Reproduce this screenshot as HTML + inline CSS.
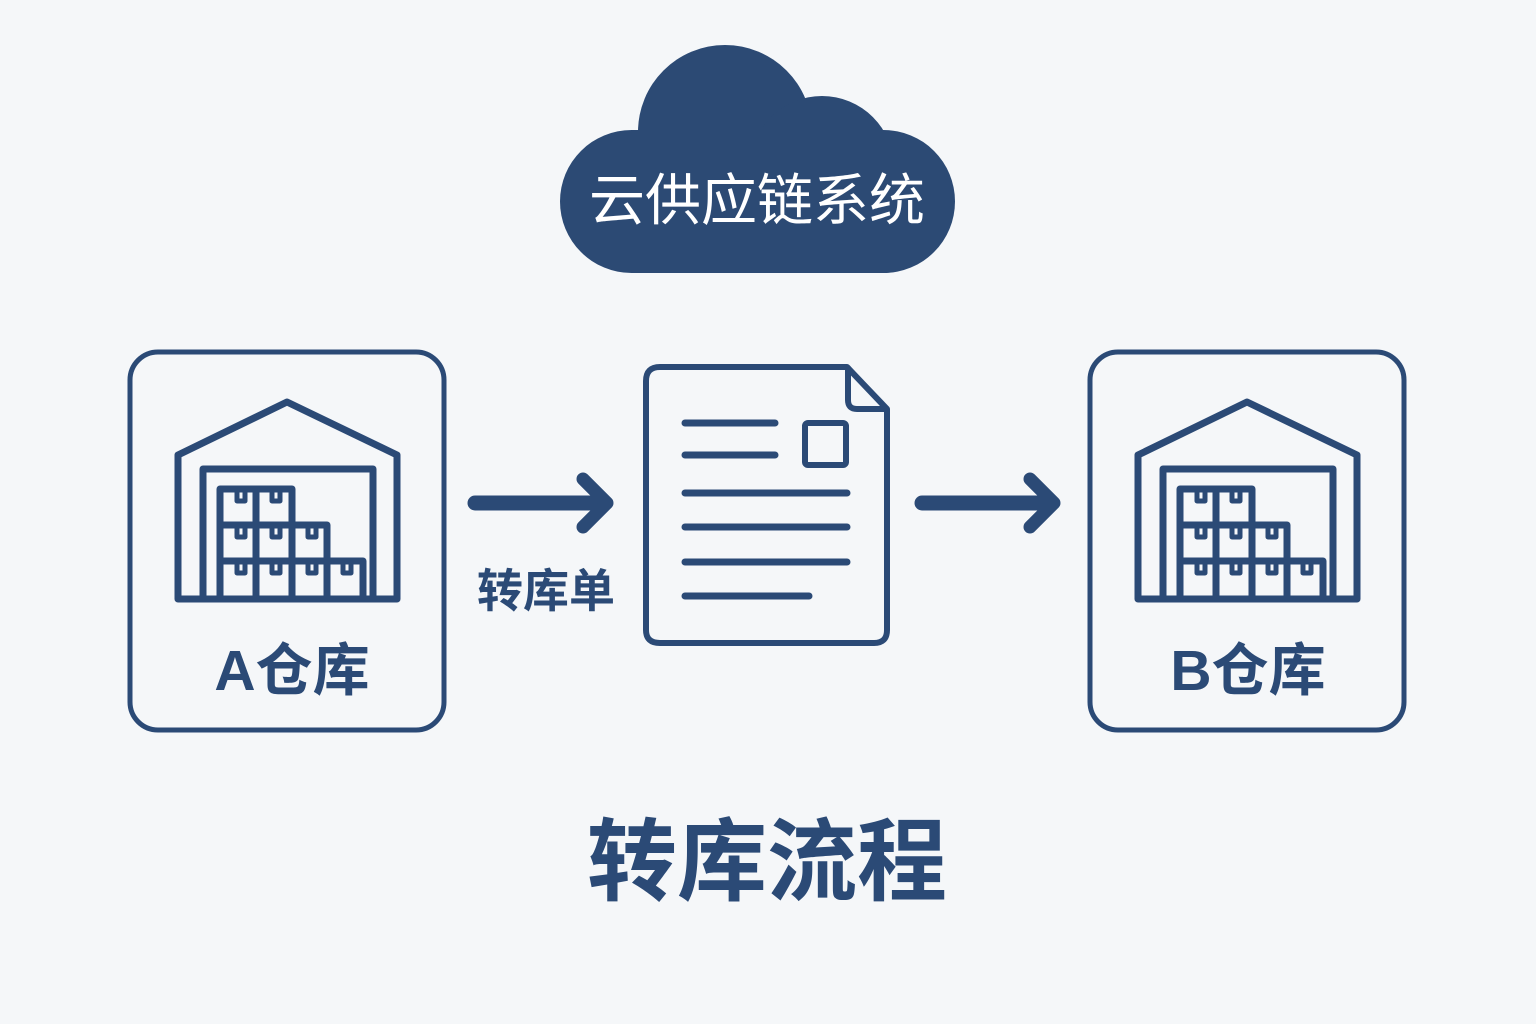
<!DOCTYPE html>
<html><head><meta charset="utf-8"><style>
html,body{margin:0;padding:0;background:#f5f7f9;}
svg{display:block;}
text{font-family:"Liberation Sans","Noto Sans CJK SC",sans-serif;}
</style></head><body>
<svg width="1536" height="1024" viewBox="0 0 1536 1024" xmlns="http://www.w3.org/2000/svg">
<rect width="1536" height="1024" fill="#f5f7f9"/>
<defs>
<g id="wh" fill="none" stroke="#2b4a76" stroke-width="7" stroke-linejoin="round" stroke-linecap="round">
  <path d="M178,599 L178,455 L287,402 L397,455 L397,599 Z"/>
  <path d="M203,599 L203,469 L373,469 L373,599"/>
  <path d="M220,597 L220,489 L292,489 L292,525 L327,525 L327,561 L363,561 L363,597"/>
  <path d="M220,525 L292,525 M220,561 L327,561 M256,489 L256,597 M292,525 L292,597 M327,561 L327,597"/>
  <path d="M237,491 v10 h8 v-10 M272,491 v10 h8 v-10 M237,527 v10 h8 v-10 M272,527 v10 h8 v-10 M308,527 v10 h8 v-10 M237,563 v10 h8 v-10 M272,563 v10 h8 v-10 M308,563 v10 h8 v-10 M343,563 v10 h8 v-10" stroke-width="5"/>
</g>
</defs>
<g fill="#2c4a74">
  <circle cx="725" cy="132" r="87"/>
  <circle cx="822" cy="168" r="72"/>
  <rect x="560" y="130" width="395" height="143" rx="71.5"/>
</g>
<text x="757" y="220" font-size="56" fill="#fff" text-anchor="middle">云供应链系统</text>
<rect x="130" y="352" width="314" height="378" rx="28" fill="none" stroke="#2b4a76" stroke-width="5"/>
<rect x="1090" y="352" width="314" height="378" rx="28" fill="none" stroke="#2b4a76" stroke-width="5"/>
<use href="#wh"/>
<use href="#wh" transform="translate(960,0)"/>
<text x="292" y="690" font-size="57" fill="#2b4a76" text-anchor="middle" font-weight="bold">A仓库</text>
<text x="1248" y="690" font-size="57" fill="#2b4a76" text-anchor="middle" font-weight="bold">B仓库</text>
<g stroke="#2b4a76" fill="none" stroke-linecap="round" stroke-linejoin="round">
  <path d="M475,503 L603,503" stroke-width="15"/>
  <path d="M583,479 L607,503 L583,527" stroke-width="13"/>
  <path d="M922,503 L1050,503" stroke-width="15"/>
  <path d="M1030,479 L1054,503 L1030,527" stroke-width="13"/>
</g>
<text x="546" y="607" font-size="46" fill="#2b4a76" text-anchor="middle" font-weight="bold">转库单</text>
<g fill="none" stroke="#2b4a76" stroke-linecap="round" stroke-linejoin="round">
  <path d="M660,367 L847,367 L887,409 L887,630 Q887,643 874,643 L660,643 Q646,643 646,630 L646,381 Q646,367 660,367 Z" stroke-width="6"/>
  <path d="M848,368 L848,400 Q848,409 857,409 L886,409" stroke-width="6"/>
  <rect x="805" y="423" width="41" height="42" rx="3" stroke-width="6"/>
  <path d="M685,423 L775,423 M685,455 L775,455 M685,493 L847,493 M685,527 L847,527 M685,562 L847,562 M685,596 L809,596" stroke-width="7"/>
</g>
<text x="767" y="893" font-size="90" fill="#2b4a76" text-anchor="middle" font-weight="bold">转库流程</text>
</svg>
</body></html>
